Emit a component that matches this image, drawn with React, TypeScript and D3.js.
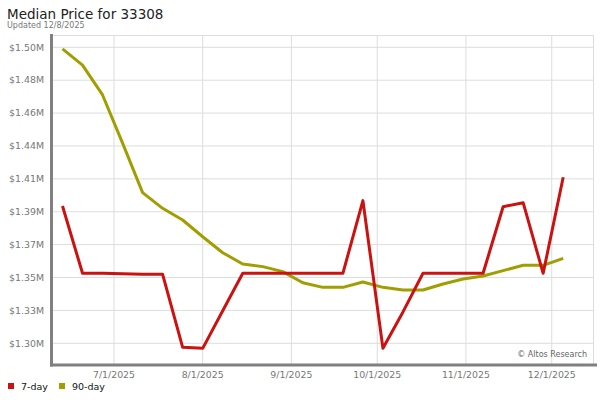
import React from "react";
import * as d3 from "d3";

const dates: string[] = [
  "2025-06-13", "2025-06-20", "2025-06-27", "2025-07-04", "2025-07-11", "2025-07-18",
  "2025-07-25", "2025-08-01", "2025-08-08", "2025-08-15", "2025-08-22", "2025-08-29",
  "2025-09-05", "2025-09-12", "2025-09-19", "2025-09-26", "2025-10-03", "2025-10-10",
  "2025-10-17", "2025-10-24", "2025-10-31", "2025-11-07", "2025-11-14", "2025-11-21",
  "2025-11-28", "2025-12-05",
];

const sevenDay: number[] = [
  1396100, 1350600, 1350600, 1350300, 1349900, 1349900, 1300600, 1299900, 1325300,
  1350600, 1350600, 1350600, 1350600, 1350600, 1350600, 1399700, 1299900, 1324500,
  1350600, 1350600, 1350600, 1350600, 1395600, 1398300, 1350600, 1415500,
];

const ninetyDay: number[] = [
  1502200, 1491300, 1471100, 1438600, 1405100, 1394500, 1386600, 1375300, 1364500,
  1356900, 1355100, 1351700, 1344200, 1341100, 1341100, 1344700, 1341100, 1339300,
  1339300, 1343400, 1346700, 1348800, 1352400, 1356000, 1356000, 1360700,
];

const yTicks: number[] = [
  1303300, 1325522, 1347744, 1369967, 1392189, 1414411, 1436633, 1458856, 1481078, 1503300,
];

const xTicks: string[] = ["2025-07-01", "2025-08-01", "2025-09-01", "2025-10-01", "2025-11-01", "2025-12-01"];

const seriesNames: string[] = ["7-day", "90-day"];
const seriesColors: string[] = ["#cc1111", "#a09e00"];

const FONT = "'DejaVu Sans', Verdana, sans-serif";

export default function App() {
  const W = 600, H = 400;
  const left = 52, right = 593, top = 35, bottom = 365;
  const parse = (s: string) => new Date(s + "T00:00:00Z");

  const x = d3
    .scaleUtc()
    .domain([new Date(Date.UTC(2025, 5, 9, 8)), new Date(Date.UTC(2025, 11, 15, 10))])
    .range([left, right]);
  const y = d3.scaleLinear().domain([1303300, 1503300]).range([343.3, 47.3]);

  const fmt = (v: number) => "$" + (v / 1e6).toFixed(2) + "M";
  const xFmt = d3.utcFormat("%-m/%-d/%Y");

  const line = d3
    .line<number>()
    .x((_, i) => x(parse(dates[i])))
    .y((d) => y(d));

  const series = [sevenDay, ninetyDay];

  return (
    <svg
      width={W}
      height={H}
      style={{ position: "absolute", left: 0, top: 0, background: "#fff" }}
      fontFamily={FONT}
    >
      <rect x={0} y={0} width={W} height={H} fill="#fff" />
      <text x={7} y={19} fontSize={13.5} fill="#222">
        Median Price for 33308
      </text>
      <text x={7} y={28} fontSize={8} fill="#777">
        Updated 12/8/2025
      </text>

      {/* grid */}
      {yTicks.map((t, i) => (
        <line key={"gy" + i} x1={left} x2={right} y1={y(t)} y2={y(t)} stroke="#dddddd" strokeWidth={1} />
      ))}
      {xTicks.map((t, i) => (
        <line
          key={"gx" + i}
          x1={x(parse(t))}
          x2={x(parse(t))}
          y1={top}
          y2={bottom}
          stroke="#dddddd"
          strokeWidth={1}
        />
      ))}
      <line x1={left} x2={right} y1={top + 0.5} y2={top + 0.5} stroke="#dddddd" />
      <line x1={right + 0.5} x2={right + 0.5} y1={top} y2={bottom} stroke="#dddddd" />

      {/* axes */}
      <line x1={51.5} x2={51.5} y1={34} y2={366.5} stroke="#808080" strokeWidth={3} />
      <line x1={50} x2={597} y1={365} y2={365} stroke="#808080" strokeWidth={3} />

      {yTicks.map((t, i) => (
        <text
          key={"ly" + i}
          x={44}
          y={y(t)}
          dy="0.35em"
          textAnchor="end"
          fontSize={9.4}
          fill="#777"
        >
          {fmt(t)}
        </text>
      ))}
      {xTicks.map((t, i) => (
        <text
          key={"lx" + i}
          x={x(parse(t))}
          y={377.5}
          textAnchor="middle"
          fontSize={9.4}
          fill="#777"
        >
          {xFmt(parse(t))}
        </text>
      ))}

      <text x={587} y={357} textAnchor="end" fontSize={8} fill="#666">
        © Altos Research
      </text>

      {/* lines */}
      {[1, 0].map((si) => (
        <path
          key={"s" + si}
          d={line(series[si]) || ""}
          fill="none"
          stroke={seriesColors[si]}
          strokeWidth={3}
          strokeLinejoin="round"
        />
      ))}

      {/* legend */}
      {seriesNames.map((n, i) => {
        const lx = i === 0 ? 8 : 59;
        return (
          <g key={"lg" + i}>
            <rect x={lx} y={383} width={6} height={6} fill={seriesColors[i]} />
            <text x={lx + 13} y={389.5} fontSize={9.5} fill="#111">
              {n}
            </text>
          </g>
        );
      })}
    </svg>
  );
}
